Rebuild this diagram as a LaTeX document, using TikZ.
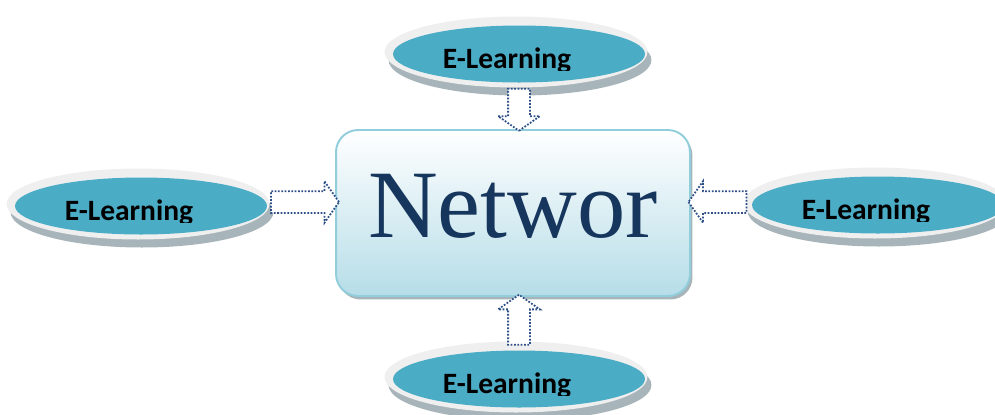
\documentclass[tikz,border=0pt]{standalone}
\usepackage{fontspec}
\setmainfont{Liberation Serif}
\newfontfamily\elfont{Carlito}
\usetikzlibrary{shapes.geometric,shapes.arrows,shadows}
\definecolor{elblue}{HTML}{4BACC6}
\definecolor{elring}{HTML}{EFEFEF}
\definecolor{elshadow}{HTML}{A7B4BA}
\definecolor{netline}{HTML}{92CDDC}
\definecolor{netbottom}{HTML}{B6DDE8}
\definecolor{nettext}{HTML}{17365D}
\definecolor{arrline}{HTML}{2E4F86}
\begin{document}
\begin{tikzpicture}[x=0.02cm, y=-0.02cm,
  eblue/.style = {ellipse, fill=elblue, minimum width=5.04cm, minimum height=1.14cm, inner sep=0},
  ering/.style = {ellipse, fill=elring, minimum width=5.26cm, minimum height=1.42cm, inner sep=0},
  eshadow/.style = {ellipse, fill=elshadow, minimum width=5.26cm, minimum height=1.42cm, inner sep=0},
  etext/.style = {anchor=base, font=\elfont\bfseries\fontsize{16.8}{18}\selectfont},
  netbox/.style = {draw=netline, line width=1.1pt, rounded corners=0.44cm, top color=white, bottom color=netbottom,
    minimum width=7.08cm, minimum height=3.32cm, text height=1.3cm, text depth=0.34cm, text=nettext,
    font=\fontsize{55}{60}\selectfont, drop shadow={shadow xshift=0.05cm, shadow yshift=-0.07cm, fill=elshadow, opacity=1}},
  blockarr/.style = {single arrow, draw=arrline, fill=white, line width=1pt, dash pattern=on 1pt off 0.9pt,
    inner xsep=0, inner ysep=0.2cm, single arrow head extend=0.2cm, single arrow tip angle=110,
    sloped, allow upside down}]
\useasboundingbox (0,0) rectangle (995,414);

% ellipses
\foreach \nm/\x/\y in {etop/519/54, eleft/141/206, eright/878/205, ebot/519/379} {
  \node[eshadow] at (\x+1,\y+6) {};
  \node[ering] at (\x-3,\y-2) {};
  \node[eblue] (\nm) at (\x,\y) {};
  \begin{scope}
    \clip (\x-130,\y+16) rectangle (\x+110,\y-30);
    \node[etext] at (\x-12,\y+14) {E-Learning};
  \end{scope}
}

% centre box
\node[netbox] (net) at (513,213) {Networ};

% block arrows
\path (etop.south) -- (etop.south |- net.north) node[midway, blockarr, minimum height=0.84cm] {};
\path ([yshift=0.08cm]eleft.east) -- ([yshift=0.08cm]eleft.east -| net.west) node[midway, blockarr, minimum height=1.36cm] {};
\path ([yshift=0.06cm]eright.west) -- ([yshift=0.06cm]eright.west -| net.east) node[midway, blockarr, minimum height=1.16cm] {};
\path (ebot.north) -- (ebot.north |- net.south) node[midway, blockarr, minimum height=1.0cm] {};
\end{tikzpicture}
\end{document}
